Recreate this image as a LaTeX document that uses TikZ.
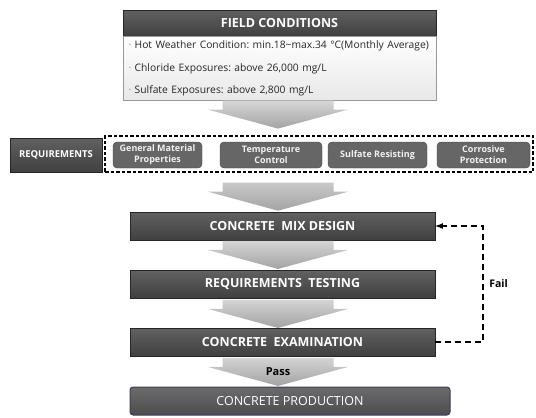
\documentclass[tikz,border=0pt]{standalone}
\usepackage{fontspec}
\setmainfont{Open Sans}
\usetikzlibrary{arrows}
\frenchspacing

\definecolor{prodedge}{HTML}{3E3E58}

\tikzset{
  darkbox/.style={draw=black!85, top color=black!62, bottom color=black!75, text=white,
    font=\fontsize{12.5}{14}\selectfont\bfseries, minimum height=27.5pt, inner sep=0pt},
  reqitem/.style={draw=black!75, fill=black!60, rounded corners=4pt, text=black!5, align=center,
    font=\fontsize{9}{11}\selectfont\bfseries, minimum height=26pt, inner sep=0pt},
  prodbox/.style={draw=prodedge, line width=1pt, rounded corners=3pt, top color=black!58,
    bottom color=black!70, text=white, font=\fontsize{12.5}{14}\selectfont, minimum height=28pt, inner sep=0pt},
  bigarrow/.style={top color=black!16, bottom color=black!36},
  failline/.style={draw, line width=1.6pt, dash pattern=on 6pt off 4pt, -latex},
}

\begin{document}
\begin{tikzpicture}[x=1pt, y=1pt, node distance=58pt]
    \useasboundingbox (0,0) rectangle (536,-418);
    \coordinate (axis) at (278,0);

    % site conditions
    \node[darkbox, minimum width=313pt, minimum height=26pt] (fieldhead) at (279.5,-23) {FIELD CONDITIONS};
    \node[draw=black!40, top color=white, bottom color=black!9, minimum width=313pt, minimum height=64pt,
          text width=302pt, inner xsep=5.5pt, inner ysep=0pt, align=left, anchor=north,
          text=black!85, font=\fontsize{10.3}{22.5}\selectfont] (fieldbody) at (fieldhead.south)
          {\textcolor{black!45}{·} Hot Weather Condition: min.18\textasciitilde max.34 °C(Monthly Average)\\
           \textcolor{black!45}{·} Chloride Exposures: above 26,000 mg/L\\
           \textcolor{black!45}{·} Sulfate Exposures: above 2,800 mg/L};

    % requirements row
    \node[darkbox, minimum width=92pt, minimum height=34pt, font=\fontsize{9.5}{11}\selectfont\bfseries] (reqlabel) at (56,-155) {REQUIREMENTS};
    \node[draw, line width=1.4pt, dash pattern=on 3.5pt off 2pt, minimum width=428pt, minimum height=36pt, inner sep=0pt] (reqframe) at (319,-154) {};
    \node[reqitem, minimum width=89pt] (general) at (157.5,-155) {General Material\\Properties};
    \node[reqitem, minimum width=102pt] (temperature) [right of=general, xshift=55.5pt] {Temperature\\Control};
    \node[reqitem, minimum width=99pt] (sulfate) [right of=temperature, xshift=48.5pt] {Sulfate Resisting};
    \node[reqitem, minimum width=93pt] (corrosive) [right of=sulfate, xshift=48pt] {Corrosive\\Protection};

    % design loop
    \node[darkbox, minimum width=305pt] (mix) at (282.5,-226) {CONCRETE\ \ MIX DESIGN};
    \node[darkbox, minimum width=305pt] (testing) [below of=mix] {REQUIREMENTS\ \ TESTING};
    \node[darkbox, minimum width=305pt] (exam) [below of=testing] {CONCRETE\ \ EXAMINATION};
    \node[prodbox, minimum width=320pt] (production) [below of=exam, xshift=7.5pt, yshift=-1pt] {CONCRETE PRODUCTION};

    % block arrows between the stages
    \foreach \src/\gap in {fieldbody/0, reqframe/10, mix/1, testing/2, exam/2}
        \shade[bigarrow] (\src.south -| axis) ++(-55.5,-\gap) -- ++(111,0) -- ++(0,-9) -- ++(14.5,0)
            -- ++(-70,-19) -- ++(-70,19) -- ++(14.5,0) -- cycle;

    \node[font=\fontsize{11}{13}\selectfont\bfseries] (pass) [below of=exam, xshift=-4.5pt, yshift=28.5pt] {Pass};

    \draw[failline] (exam.east) -- ++(48,0) |- node[pos=0.25, right=2pt, font=\fontsize{10.5}{12}\selectfont\bfseries] (fail) {Fail} (mix.east);
\end{tikzpicture}
\end{document}
